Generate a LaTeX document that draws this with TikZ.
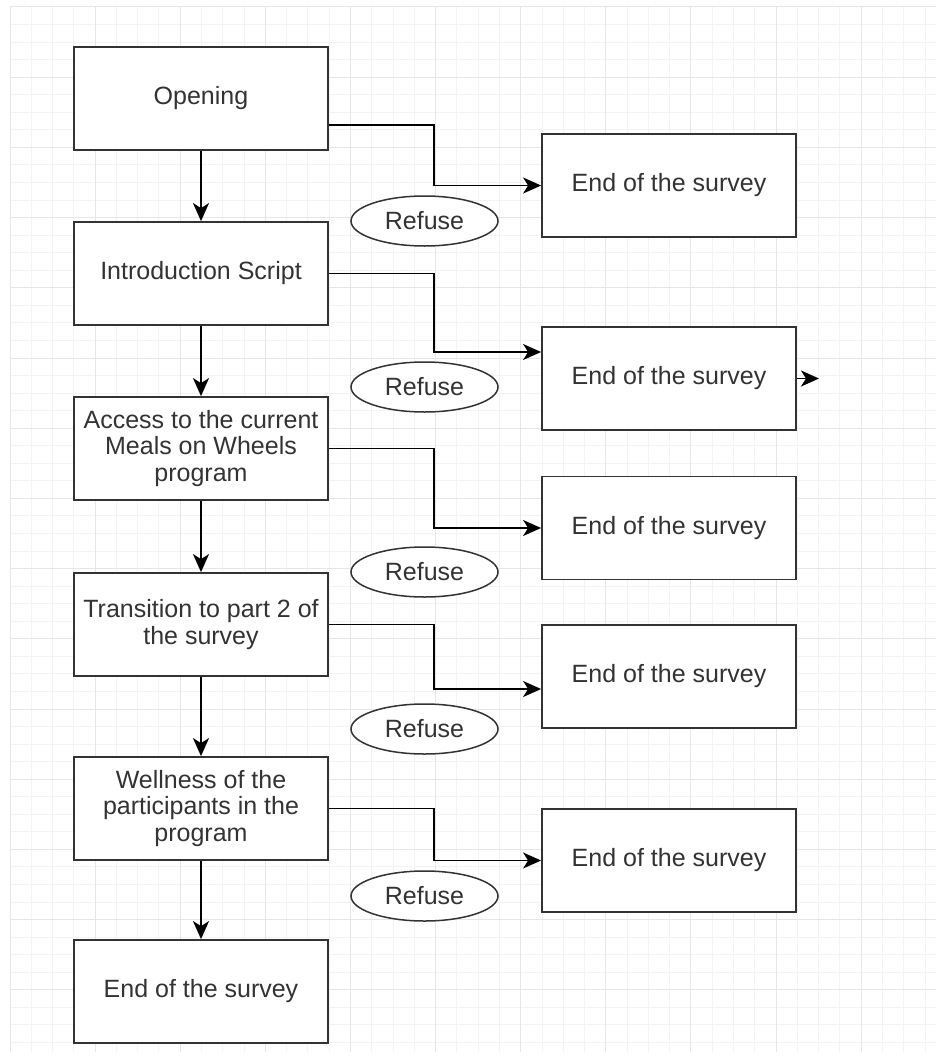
\documentclass[tikz,border=0pt]{standalone}
\usepackage{fontspec}
\setmainfont{Liberation Sans}
\usetikzlibrary{shapes.geometric, arrows.meta, calc}
\definecolor{gridminor}{RGB}{243,243,243}
\definecolor{gridmajor}{RGB}{230,230,230}
\definecolor{inkgray}{RGB}{51,51,51}

\tikzset{
  stagebox/.style={draw=inkgray, line width=1.8pt, fill=white, minimum width=254pt, minimum height=103pt, inner sep=0pt, align=center, text=inkgray, font=\fontsize{25}{26.5}\selectfont},
  refuse/.style={ellipse, draw=inkgray, line width=1.5pt, fill=white, minimum width=147pt, minimum height=50pt, inner sep=0pt, text=inkgray, font=\fontsize{25}{26.5}\selectfont},
  flow/.style={line width=1.8pt, -{Stealth[length=18pt, width=16pt, inset=5pt]}}
}

\begin{document}
\begin{tikzpicture}[x=1pt, y=-1pt]
  \useasboundingbox (0,0) rectangle (936,1057);

  % Background grid
  \foreach \i in {0,...,43} \draw[gridminor, line width=1pt] ({10+\i*21.28},7) -- ({10+\i*21.28},1052);
  \foreach \j in {0,...,59} \draw[gridminor, line width=1pt] (10,{7+\j*17.55}) -- (936,{7+\j*17.55});
  \foreach \i in {0,...,10} \draw[gridmajor, line width=1pt] ({10+\i*85.12},7) -- ({10+\i*85.12},1052);
  \foreach \j in {0,...,14} \draw[gridmajor, line width=1pt] (10,{7+\j*70.2}) -- (936,{7+\j*70.2});

  % Survey stages
  \node[stagebox] (opening) at (201, 98.5) {Opening};
  \node[stagebox] (intro) at (201, 273.5) {Introduction Script};
  \node[stagebox] (access) at (201, 448.5) {Access to the current\\Meals on Wheels\\program};
  \node[stagebox] (transition) at (201, 624.5) {Transition to part 2 of\\the survey};
  \node[stagebox] (wellness) at (201, 808.5) {Wellness of the\\participants in the\\program};
  \node[stagebox] (endmain) at (201, 991.5) {End of the survey};

  % Early endings
  \node[stagebox] (end1) at (669, 185.5) {End of the survey};
  \node[stagebox] (end2) at (669, 378.5) {End of the survey};
  \node[stagebox] (end3) at (669, 528) {End of the survey};
  \node[stagebox] (end4) at (669, 676.5) {End of the survey};
  \node[stagebox] (end5) at (669, 860.5) {End of the survey};
  \coordinate (stub) at (819, 378.5);

  % Main flow
  \draw[flow] (opening) -- (intro);
  \draw[flow] (intro) -- (access);
  \draw[flow] (access) -- (transition);
  \draw[flow] (transition) -- (wellness);
  \draw[flow] (wellness) -- (endmain);

  % Refusals
  \draw[flow] ($(opening.east)+(0,26.5)$) -- ++(105,0) |- (end1);
  \draw[flow] (intro.east) -- ++(105,0) |- ($(end2.west)+(0,-26.5)$);
  \draw[flow] (access.east) -- ++(105,0) |- (end3);
  \draw[flow] (transition.east) -- ++(105,0) |- ($(end4.west)+(0,12.5)$);
  \draw[flow] (wellness.east) -- ++(105,0) |- (end5);
  \draw[flow] (end2.east) -- (stub);

  \node[refuse] (refuse1) at (424.5, 221) {Refuse};
  \node[refuse] (refuse2) at (424.5, 387) {Refuse};
  \node[refuse] (refuse3) at (424.5, 572) {Refuse};
  \node[refuse] (refuse4) at (424.5, 729) {Refuse};
  \node[refuse] (refuse5) at (424.5, 896) {Refuse};
\end{tikzpicture}
\end{document}
